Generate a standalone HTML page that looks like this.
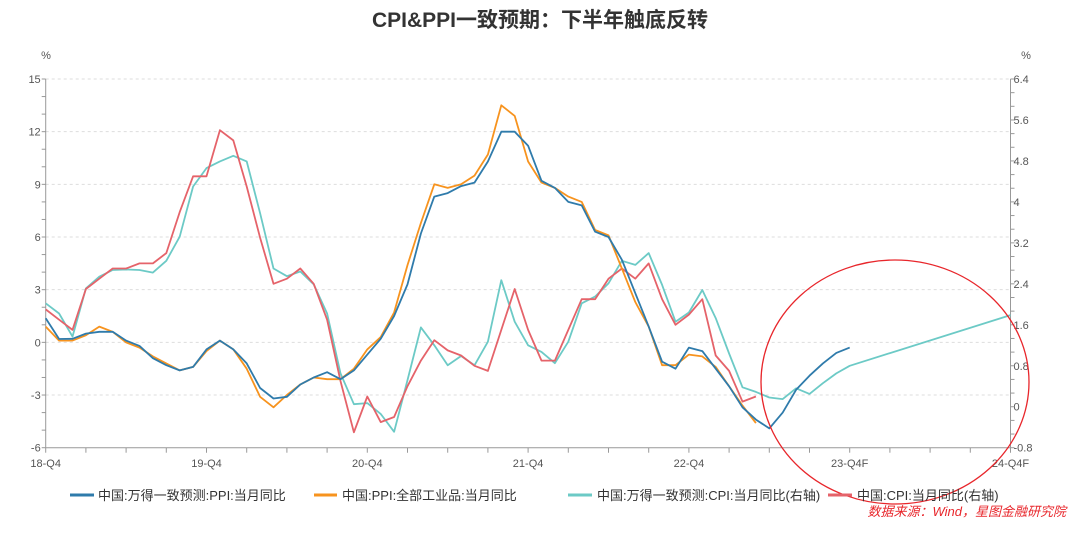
<!DOCTYPE html>
<html><head><meta charset="utf-8"><style>
body{margin:0;background:#fff;}
svg text{font-family:"Liberation Sans","Noto Sans CJK SC",sans-serif;}
</style></head><body>
<svg id="c" width="1080" height="528" viewBox="0 0 1080 528" xmlns="http://www.w3.org/2000/svg">
<text x="540" y="27" text-anchor="middle" font-size="21" font-weight="bold" fill="#333">CPI&amp;PPI一致预期：下半年触底反转</text>
<text x="46" y="59" text-anchor="middle" font-size="11" fill="#555">%</text>
<text x="1026" y="59" text-anchor="middle" font-size="11" fill="#555">%</text>
<g id="grid"></g><g id="axes"></g><g id="series"></g>
<ellipse cx="895" cy="382" rx="134" ry="122" fill="none" stroke="#e8262b" stroke-width="1.3"/>
<g>
<line x1="70" y1="495" x2="94" y2="495" stroke="#2f7bab" stroke-width="3"/><text x="98" y="500" font-size="13" fill="#333">中国:万得一致预测:PPI:当月同比</text>
<line x1="314" y1="495" x2="337" y2="495" stroke="#f7931e" stroke-width="3"/><text x="342" y="500" font-size="13" fill="#333">中国:PPI:全部工业品:当月同比</text>
<line x1="568" y1="495" x2="592" y2="495" stroke="#6ccac6" stroke-width="3"/><text x="597" y="500" font-size="13" fill="#333">中国:万得一致预测:CPI:当月同比(右轴)</text>
<line x1="828" y1="495" x2="852" y2="495" stroke="#e5636a" stroke-width="3"/><text x="857" y="500" font-size="13" fill="#333">中国:CPI:当月同比(右轴)</text>
</g>
<text x="1066" y="516" text-anchor="end" font-size="13" font-style="italic" fill="#e8262b">数据来源：Wind，星图金融研究院</text>
</svg>
<script>
const xLabels=["18-Q4","19-Q4","20-Q4","21-Q4","22-Q4","23-Q4F","24-Q4F"];
const leftTicks=[15,12,9,6,3,0,-3,-6];
const rightTicks=[6.4,5.6,4.8,4,3.2,2.4,1.6,0.8,0,-0.8];
const ppiConsensus=[1.37,0.19,0.2,0.5,0.6,0.6,0.1,-0.2,-0.9,-1.3,-1.6,-1.4,-0.4,0.1,-0.4,-1.2,-2.6,-3.2,-3.1,-2.4,-2.0,-1.7,-2.1,-1.6,-0.7,0.2,1.5,3.3,6.2,8.3,8.5,8.9,9.1,10.3,12.0,12.0,11.2,9.2,8.8,8.0,7.8,6.3,6.0,4.7,2.8,0.9,-1.1,-1.5,-0.3,-0.5,-1.5,-2.5,-3.7,-4.4,-4.9,-4.0,-2.7,-1.9,-1.2,-0.6,-0.3];
const ppi=[0.9,0.1,0.1,0.4,0.9,0.6,0.0,-0.3,-0.8,-1.2,-1.6,-1.4,-0.5,0.1,-0.4,-1.5,-3.1,-3.7,-3.0,-2.4,-2.0,-2.1,-2.1,-1.5,-0.4,0.3,1.7,4.4,6.8,9.0,8.8,9.0,9.5,10.7,13.5,12.9,10.3,9.1,8.8,8.3,8.0,6.4,6.1,4.2,2.3,0.9,-1.3,-1.3,-0.7,-0.8,-1.4,-2.5,-3.6,-4.6];
const cpiConsensus=[2.02,1.82,1.37,2.31,2.54,2.67,2.68,2.67,2.62,2.85,3.32,4.30,4.66,4.79,4.9,4.79,3.78,2.70,2.55,2.64,2.39,1.82,0.65,0.05,0.07,-0.14,-0.49,0.52,1.55,1.2,0.81,0.99,0.81,1.27,2.47,1.66,1.2,1.07,0.85,1.27,2.02,2.15,2.41,2.85,2.77,3.0,2.38,1.66,1.84,2.28,1.73,1.04,0.38,0.29,0.18,0.15,0.36,0.25,0.46,0.65,0.80,null,null,null,null,null,null,null,null,null,null,null,1.79];
const cpi=[1.9,1.7,1.5,2.3,2.5,2.7,2.7,2.8,2.8,3.0,3.8,4.5,4.5,5.4,5.2,4.3,3.3,2.4,2.5,2.7,2.4,1.7,0.5,-0.5,0.2,-0.3,-0.2,0.4,0.9,1.3,1.1,1.0,0.8,0.7,1.5,2.3,1.5,0.9,0.9,1.5,2.1,2.1,2.5,2.7,2.5,2.8,2.1,1.6,1.8,2.1,1.0,0.7,0.1,0.2];

const NS="http://www.w3.org/2000/svg";
const X0=45.7,X1=1010.5,NM=72,YT=79,YB=447.7;
const x=m=>X0+(X1-X0)*m/NM;
const yL=v=>YT+(15-v)*(YB-YT)/21;
const yR=v=>YT+(6.4-v)*(YB-YT)/7.2;
function mk(tag,attrs,parent){const e=document.createElementNS(NS,tag);for(const k in attrs)e.setAttribute(k,attrs[k]);parent.appendChild(e);return e;}
const grid=document.getElementById('grid'),axes=document.getElementById('axes'),ser=document.getElementById('series');
leftTicks.forEach(v=>{
  if(v!==-6){const g=mk('line',{x1:X0,x2:X1,y1:yL(v),y2:yL(v),stroke:'#ddd','stroke-dasharray':'3,3'},grid);
  
  }
  const t=mk('text',{x:X0-5,y:yL(v)+4,'text-anchor':'end','font-size':11,fill:'#555'},axes);t.textContent=v;
  
  
});
for(let v=-6;v<=15;v++)mk('line',{x1:X0-4,x2:X0,y1:yL(v),y2:yL(v),stroke:'#999'},axes);
rightTicks.forEach(v=>{
  const t=mk('text',{x:X1+3,y:yR(v)+4,'font-size':11,fill:'#555'},axes);t.textContent=v;
  
  
});
for(let i=0;i<=27;i++){const yy=YT+(YB-YT)*i/27;mk('line',{x1:X1,x2:X1+4,y1:yy,y2:yy,stroke:'#999'},axes);}
mk('line',{x1:X0,x2:X0,y1:YT,y2:YB,stroke:'#999'},axes);
mk('line',{x1:X1,x2:X1,y1:YT,y2:YB,stroke:'#999'},axes);
mk('line',{x1:X0,x2:X1,y1:YB,y2:YB,stroke:'#999'},axes);
for(let q=0;q<=24;q++)mk('line',{x1:x(q*3),x2:x(q*3),y1:YB,y2:YB+5,stroke:'#999'},axes);
xLabels.forEach((l,i)=>{const t=mk('text',{x:x(i*12),y:467,'text-anchor':'middle','font-size':11,fill:'#555'},axes);t.textContent=l;
  
  });
function line(arr,yf,color,name){
  const pts=[];arr.forEach((v,i)=>{if(v!==null&&v!==undefined)pts.push(x(i).toFixed(1)+','+yf(v).toFixed(1));});
  const p=mk('polyline',{points:pts.join(' '),fill:'none',stroke:color,'stroke-width':1.8,'stroke-linejoin':'round'},ser);
  
  
}
line(cpiConsensus,yR,'#6ccac6','series-cpi-consensus');
line(cpi,yR,'#e5636a','series-cpi');
line(ppi,yL,'#f7931e','series-ppi');
line(ppiConsensus,yL,'#2f7bab','series-ppi-consensus');
</script>
</body></html>
